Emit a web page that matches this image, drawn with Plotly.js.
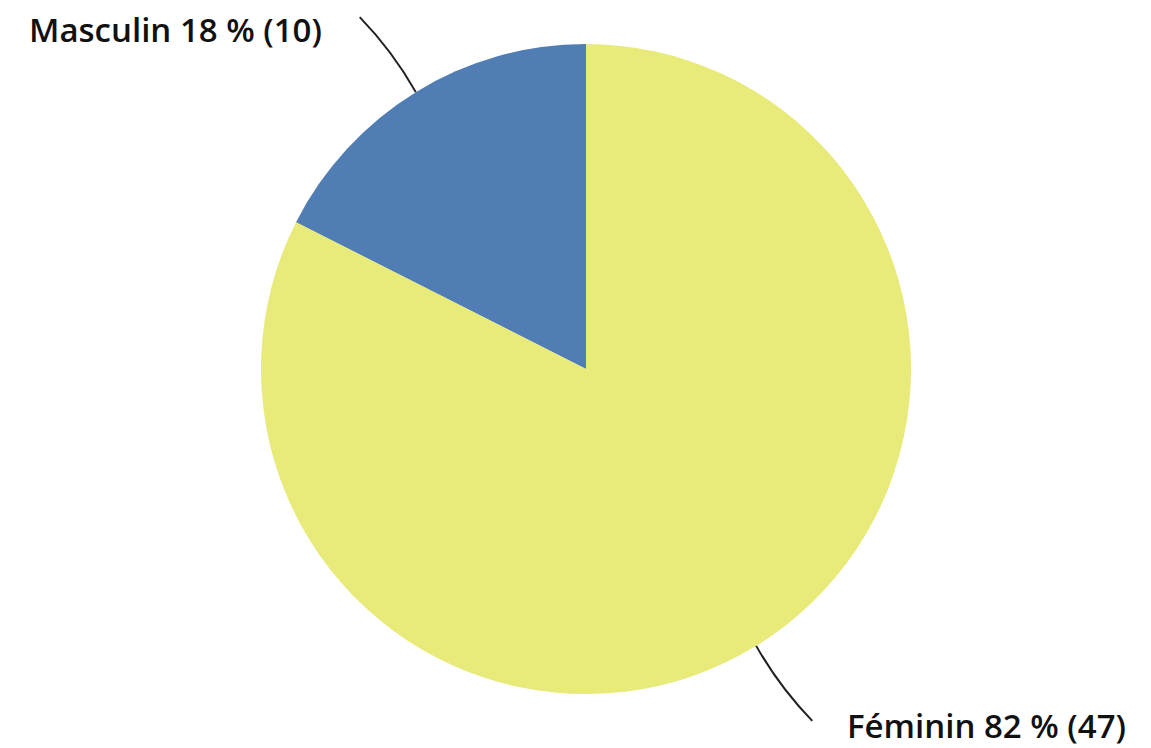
<!DOCTYPE html>
<html>
<head>
<meta charset="utf-8">
<script src="https://cdn.plot.ly/plotly-3.0.1.min.js"></script>
<style>
  html, body { margin: 0; padding: 0; background: #fff; }
  #plot1 { width: 1151px; height: 748px; }
</style>
</head>
<body>
<div id="plot1"></div>
<script>
// Slices
var labels = ['Masculin', 'Féminin'];
var counts = [10, 47];
var percents = [18, 82];
var colors = ['#4f7db4', '#e8ea7a'];

var W = 1151, H = 748;
var cx = 586, cy = 369, R = 325;

function px2x(x) { return x / W; }
function px2y(y) { return 1 - y / H; }

function drawPlot1() {
	var total = counts.reduce(function(a, b) { return a + b; }, 0);
	// first slice ends at 12 o'clock, laid out counterclockwise
	var trace = {
		type: 'pie',
		labels: labels,
		values: counts,
		sort: false,
		direction: 'clockwise',
		rotation: -counts[0] / total * 360,
		marker: { colors: colors, line: { width: 0 } },
		textinfo: 'none',
		hoverinfo: 'none',
		showlegend: false,
		domain: {
			x: [px2x(cx - R), px2x(cx + R)],
			y: [px2y(cy + R), px2y(cy - R)]
		}
	};

	// labels + leader lines placed from each slice's mid angle
	var shapes = [], annotations = [];
	var cum = 0;
	for (var i = 0; i < counts.length; i++) {
		var mid = (cum + counts[i] / 2) / total;
		cum += counts[i];
		var a = mid * 2 * Math.PI; // counterclockwise from 12 o'clock
		var ux = -Math.sin(a), uy = -Math.cos(a);
		var left = ux < 0;
		var ex = cx + R * ux, ey = cy + R * uy;
		var ox = ex + 88 * ux + (left ? -10 : 10), oy = ey + 88 * uy;
		var dx = ox - ex, dy = oy - ey, len = Math.sqrt(dx * dx + dy * dy);
		var qx = (ex + ox) / 2 - dy / len * 6, qy = (ey + oy) / 2 + dx / len * 6;
		shapes.push({
			type: 'path', xref: 'paper', yref: 'paper',
			path: 'M ' + px2x(ex) + ',' + px2y(ey) + ' Q ' + px2x(qx) + ',' + px2y(qy) + ' ' + px2x(ox) + ',' + px2y(oy),
			line: { color: '#222222', width: 2 }
		});
		annotations.push({
			xref: 'paper', yref: 'paper',
			x: px2x(ox + (left ? -36 : 33)), y: px2y(oy + (left ? 12 : 5)),
			xanchor: left ? 'right' : 'left', yanchor: 'middle',
			text: labels[i] + ' ' + percents[i] + ' % (' + counts[i] + ')',
			showarrow: false,
			font: { family: '"Open Sans", sans-serif', size: 33, color: '#111111', weight: 600 }
		});
	}

	var layout = {
		width: W, height: H,
		margin: { l: 0, r: 0, t: 0, b: 0 },
		paper_bgcolor: '#ffffff',
		shapes: shapes,
		annotations: annotations
	};
	Plotly.newPlot('plot1', [trace], layout, { displayModeBar: false, staticPlot: true });
}

drawPlot1();
</script>
</body>
</html>
